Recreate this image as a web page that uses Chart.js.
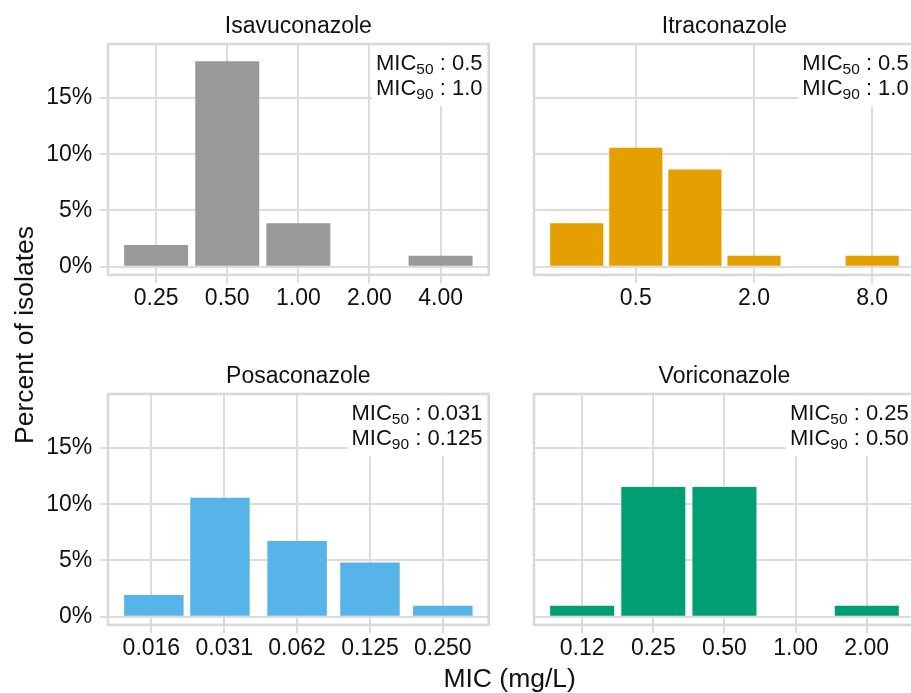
<!DOCTYPE html>
<html>
<head>
<meta charset="utf-8">
<script src="https://cdn.jsdelivr.net/npm/chart.js@4.4.1/dist/chart.umd.min.js"></script>
<style>
  html, body { margin: 0; padding: 0; background: #fff; overflow: hidden; width: 911px; height: 693px; }
  .panel { position: absolute; }
  .axtitle { position: absolute; font-family: "Liberation Sans", Arial, sans-serif; font-size: 26.5px;
             line-height: 26px; height: 26px; width: 400px; text-align: center; color: #111; white-space: nowrap; }
</style>
</head>
<body>
<div class="panel" style="left:0;top:0"><canvas id="isa" width="500" height="340"></canvas></div>
<div class="panel" style="left:500px;top:0"><canvas id="itra" width="420" height="340"></canvas></div>
<div class="panel" style="left:0;top:340px"><canvas id="posa" width="500" height="353"></canvas></div>
<div class="panel" style="left:500px;top:340px"><canvas id="vori" width="420" height="353"></canvas></div>
<div class="axtitle" style="left:-175.7px;top:322px;transform:rotate(-90deg)">Percent of isolates</div>
<div class="axtitle" style="left:309.7px;top:665.3px">MIC (mg/L)</div>
<script>
// MIC values (mg/L) and percent of isolates
const isaMic = [0.25, 0.5, 1, 2, 4];
const isaPct = [1.92, 18.27, 3.85, 0, 0.96];
const isaBreaks = [0.25, 0.5, 1, 2, 4];
const isaLabels = ['0.25', '0.50', '1.00', '2.00', '4.00'];

const itraMic = [0.25, 0.5, 1, 2, 4, 8];
const itraPct = [3.85, 10.58, 8.65, 0.96, 0, 0.96];
const itraBreaks = [0.5, 2, 8];
const itraLabels = ['0.5', '2.0', '8.0'];

const posaMic = [0.016, 0.03, 0.0625, 0.125, 0.25];
const posaPct = [1.92, 10.58, 6.73, 4.81, 0.96];
const posaBreaks = [0.015625, 0.03125, 0.0625, 0.125, 0.25];
const posaLabels = ['0.016', '0.031', '0.062', '0.125', '0.250'];

const voriMic = [0.125, 0.25, 0.5, 1, 2];
const voriPct = [0.96, 11.54, 11.54, 0, 0.96];
const voriBreaks = [0.125, 0.25, 0.5, 1, 2];
const voriLabels = ['0.12', '0.25', '0.50', '1.00', '2.00'];

const yBreaks = [0, 5, 10, 15];

const fam = '"Liberation Sans", Arial, sans-serif';
const gridCol = '#dcdcdc';
Chart.defaults.font.family = fam;

// x range like ggplot: bar half width plus 5% expansion (log2 units)
function xRange(mic) {
  const lg = mic.map(Math.log2);
  let step = Infinity;
  for (let i = 1; i < lg.length; i++) step = Math.min(step, lg[i] - lg[i - 1]);
  const half = 0.45 * step;
  const span = lg[lg.length - 1] - lg[0] + 2 * half;
  return [Math.pow(2, lg[0] - half - 0.05 * span), Math.pow(2, lg[lg.length - 1] + half + 0.05 * span)];
}

// strip title, MIC50/MIC90 label and panel border
const panelDeco = {
  id: 'panelDeco',
  afterDraw(chart, args, o) {
    const ctx = chart.ctx, a = chart.chartArea;
    ctx.save();
    ctx.fillStyle = '#111';
    ctx.font = '23px ' + fam;
    ctx.textAlign = 'center';
    ctx.textBaseline = 'alphabetic';
    ctx.fillText(o.title, (a.left + a.right) / 2, a.top - 10);

    const right = a.right - 7.5;
    const rows = [['50', o.mic50, a.top + 27], ['90', o.mic90, a.top + 52]];
    const parts = rows.map(([sub, val, y]) => {
      ctx.font = '22px ' + fam;
      const wm = ctx.measureText('MIC').width;
      const tail = ' : ' + val;
      const wt = ctx.measureText(tail).width;
      ctx.font = '15.5px ' + fam;
      const ws = ctx.measureText(sub).width;
      return {sub, tail, y, x: right - wm - ws - wt, wm, ws};
    });
    const left = Math.min(...parts.map(p => p.x)) - 4;
    ctx.fillStyle = '#fff';
    ctx.fillRect(left, a.top + 2.5, a.right - left, 61);
    ctx.fillStyle = '#111';
    ctx.textAlign = 'left';
    parts.forEach(p => {
      ctx.font = '22px ' + fam;
      ctx.fillText('MIC', p.x, p.y);
      ctx.font = '15.5px ' + fam;
      ctx.fillText(p.sub, p.x + p.wm, p.y + 4);
      ctx.font = '22px ' + fam;
      ctx.fillText(p.tail, p.x + p.wm + p.ws, p.y);
    });

    ctx.strokeStyle = '#d9d9d9';
    ctx.lineWidth = 2.6;
    ctx.strokeRect(a.left + 1.3, a.top + 1.3, a.width - 2.6, a.height - 2.6);
    ctx.restore();
  }
};

function drawPanel(id, p) {
  const [xmin, xmax] = xRange(p.mic);
  return new Chart(document.getElementById(id), {
    type: 'bar',
    data: {
      datasets: [{
        data: p.mic.map((m, i) => ({x: m, y: p.pct[i]})),
        backgroundColor: p.color,
        borderWidth: 0,
        barPercentage: 0.9,
        categoryPercentage: 1
      }]
    },
    options: {
      responsive: false,
      animation: false,
      devicePixelRatio: 1,
      layout: {padding: p.pad},
      plugins: {
        legend: {display: false},
        tooltip: {enabled: false},
        panelDeco: {title: p.title, mic50: p.mic50, mic90: p.mic90}
      },
      scales: {
        x: {
          type: 'logarithmic',
          bounds: 'data',
          offset: false,
          min: xmin,
          max: xmax,
          afterBuildTicks: s => { s.ticks = p.breaks.map(v => ({value: v})); },
          afterFit: s => { s.height = 45; },
          grid: {offset: false, color: gridCol, lineWidth: 2, tickLength: 7},
          border: {display: false},
          ticks: {autoSkip: false, maxRotation: 0, padding: 1.5, color: '#111', font: {size: 23},
                  callback: (v, i) => p.labels[i]}
        },
        y: {
          bounds: 'data',
          min: -0.85,
          max: 19.92,
          afterBuildTicks: s => { s.ticks = yBreaks.map(v => ({value: v})); },
          afterFit: s => { s.width = p.showY ? 60 : 0; },
          grid: {color: gridCol, lineWidth: 2, tickLength: 7, drawTicks: p.showY},
          border: {display: false},
          ticks: {display: p.showY, padding: 7.5, color: '#111', font: {size: 23},
                  callback: v => v + '%'}
        }
      }
    },
    plugins: [panelDeco]
  });
}

drawPanel('isa', {mic: isaMic, pct: isaPct, breaks: isaBreaks, labels: isaLabels, color: '#999999',
  title: 'Isavuconazole', mic50: '0.5', mic90: '1.0', showY: true,
  pad: {left: 46.7, right: 10, top: 42.7, bottom: 18.8}});
drawPanel('itra', {mic: itraMic, pct: itraPct, breaks: itraBreaks, labels: itraLabels, color: '#E69F00',
  title: 'Itraconazole', mic50: '0.5', mic90: '1.0', showY: false,
  pad: {left: 32.7, right: 3.8, top: 42.7, bottom: 18.8}});
drawPanel('posa', {mic: posaMic, pct: posaPct, breaks: posaBreaks, labels: posaLabels, color: '#56B4E9',
  title: 'Posaconazole', mic50: '0.031', mic90: '0.125', showY: true,
  pad: {left: 46.7, right: 10, top: 52.7, bottom: 21.8}});
drawPanel('vori', {mic: voriMic, pct: voriPct, breaks: voriBreaks, labels: voriLabels, color: '#009E73',
  title: 'Voriconazole', mic50: '0.25', mic90: '0.50', showY: false,
  pad: {left: 32.7, right: 3.8, top: 52.7, bottom: 21.8}});
</script>
</body>
</html>
